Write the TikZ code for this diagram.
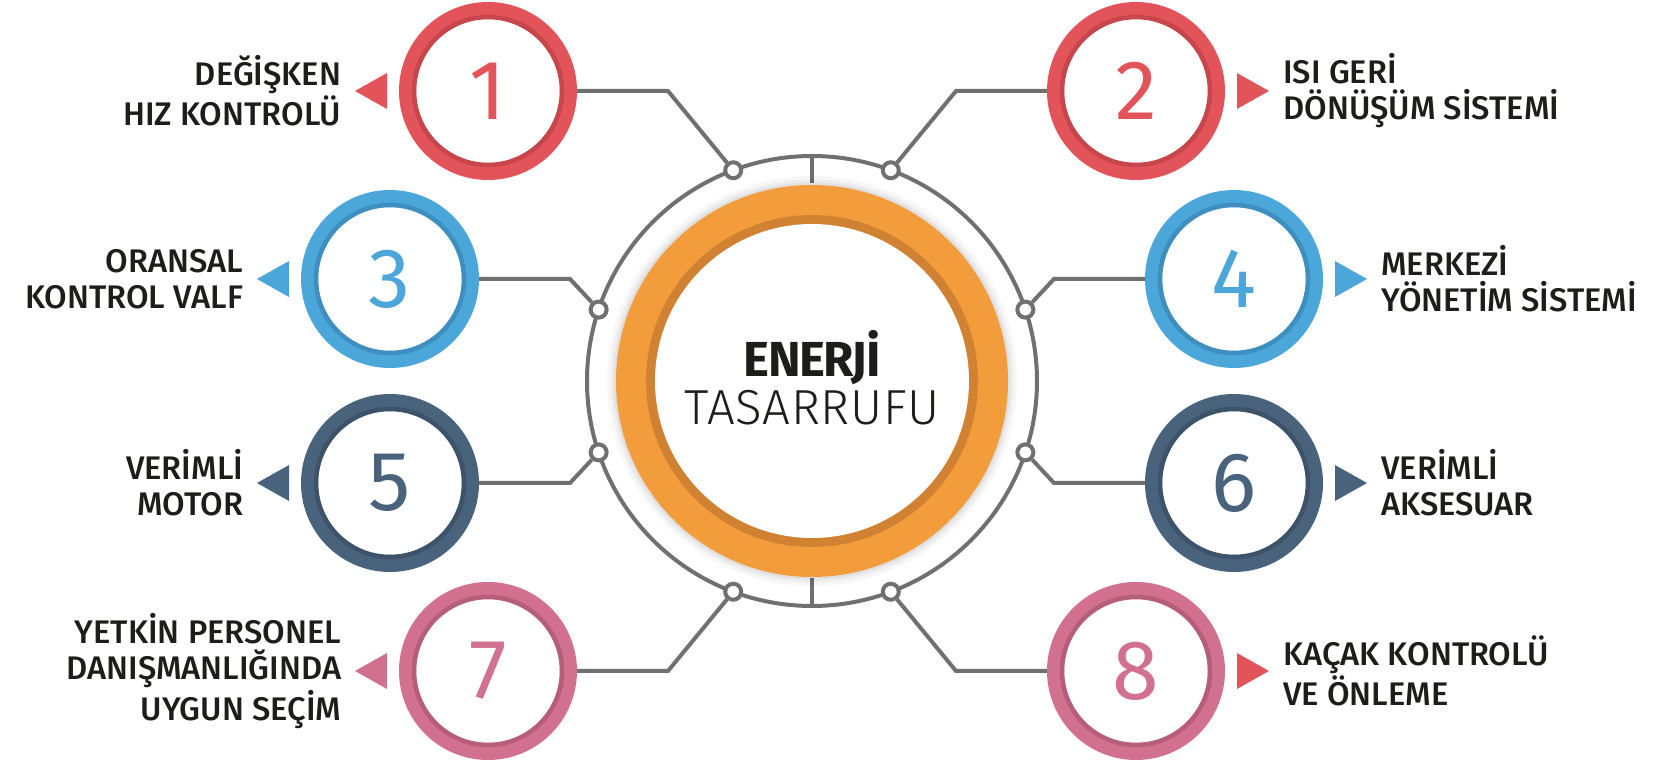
\documentclass[tikz,border=0pt]{standalone}
\usepackage{fontspec}
\setmainfont{Fira Sans}
\newfontfamily\labelfont{Fira Sans Medium}
\newfontfamily\thinfont[LetterSpace=1.5]{Fira Sans Light}
\newfontfamily\heavyfont[LetterSpace=-3]{Fira Sans Bold}
\usetikzlibrary{calc}

\definecolor{linegray}{HTML}{707070}
\definecolor{labelblack}{HTML}{1D1D1B}
\definecolor{ringred}{HTML}{E3545A}
\definecolor{ringreddark}{HTML}{C6464C}
\definecolor{ringblue}{HTML}{4BA6DA}
\definecolor{ringbluedark}{HTML}{3E8EC0}
\definecolor{ringnavy}{HTML}{4A637D}
\definecolor{ringnavydark}{HTML}{3D5369}
\definecolor{ringpink}{HTML}{D1708F}
\definecolor{ringpinkdark}{HTML}{B55D7A}
\definecolor{huborange}{HTML}{F39C3C}
\definecolor{huborangedark}{HTML}{D08232}

\tikzset{
  link/.style={draw=linegray, line width=0.08cm},
  dot/.style={circle, draw=linegray, fill=white, line width=0.08cm, minimum size=0.32cm, inner sep=0pt},
  numring/.style={circle, draw=#1, line width=0.34cm, minimum size=3.22cm, inner sep=0pt, text=#1, font=\fontsize{48}{48}\selectfont},
  band/.style={draw=#1, line width=0.09cm},
  lbl/.style={font=\labelfont\fontsize{18.6}{20.5}\selectfont, text=labelblack, inner sep=0pt},
}

\begin{document}
\begin{tikzpicture}
% Page size and white background
\useasboundingbox (0,0) rectangle (33.24,15.24);
\fill[white] (0,0) rectangle (33.24,15.24);

% Hub: gray outer ring with two ticks
\coordinate (c) at (16.24,7.62);
\draw[link] (c) circle (4.5);
\draw[link] ($(c)+(0,4.5)$) -- ($(c)+(0,3.95)$);
\draw[link] ($(c)+(0,-4.5)$) -- ($(c)+(0,-3.95)$);

% soft shadow and orange ring
\fill[black, opacity=0.03] (c) circle (4.10);
\fill[black, opacity=0.04] (c) circle (4.03);
\fill[black, opacity=0.05] (c) circle (3.97);
\fill[huborange] (c) circle (3.92);
\fill[huborangedark] (c) circle (3.32);
\fill[white] (c) circle (3.14);
\node[align=center, font=\fontsize{28}{27.3}\selectfont, text=labelblack] (title) at ($(c)+(0,0.07)$) {{\heavyfont ENERJİ}\\{\thinfont TASARRUFU}};

% Joints on the outer ring
\node[dot] (d1) at ($(c)+(110.5:4.5)$) {};
\node[dot] (d2) at ($(c)+(69.5:4.5)$) {};
\node[dot] (d3) at ($(c)+(161.5:4.5)$) {};
\node[dot] (d4) at ($(c)+(18.5:4.5)$) {};
\node[dot] (d5) at ($(c)+(198.5:4.5)$) {};
\node[dot] (d6) at ($(c)+(-18.5:4.5)$) {};
\node[dot] (d7) at ($(c)+(249.5:4.5)$) {};
\node[dot] (d8) at ($(c)+(-69.5:4.5)$) {};

% Numbered rings
\node[numring=ringred] (n1) at (9.76,13.42) {1};
\draw[band=ringreddark] (n1.center) circle (1.48);
\node[numring=ringred] (n2) at (22.72,13.42) {2};
\draw[band=ringreddark] (n2.center) circle (1.48);
\node[numring=ringblue] (n3) at (7.80,9.66) {3};
\draw[band=ringbluedark] (n3.center) circle (1.48);
\node[numring=ringblue] (n4) at (24.68,9.66) {4};
\draw[band=ringbluedark] (n4.center) circle (1.48);
\node[numring=ringnavy] (n5) at (7.80,5.58) {5};
\draw[band=ringnavydark] (n5.center) circle (1.48);
\node[numring=ringnavy] (n6) at (24.68,5.58) {6};
\draw[band=ringnavydark] (n6.center) circle (1.48);
\node[numring=ringpink] (n7) at (9.76,1.82) {7};
\draw[band=ringpinkdark] (n7.center) circle (1.48);
\node[numring=ringpink] (n8) at (22.72,1.82) {8};
\draw[band=ringpinkdark] (n8.center) circle (1.48);

% Bent links from the rings to the joints
\coordinate (k1) at (13.36,13.42);
\coordinate (k2) at (19.12,13.42);
\coordinate (k3) at (11.40,9.66);
\coordinate (k4) at (21.08,9.66);
\coordinate (k5) at (11.40,5.58);
\coordinate (k6) at (21.08,5.58);
\coordinate (k7) at (13.36,1.82);
\coordinate (k8) at (19.12,1.82);
\draw[link] (n1.east) -- (k1) -- (d1);
\draw[link] (n2.west) -- (k2) -- (d2);
\draw[link] (n3.east) -- (k3) -- (d3);
\draw[link] (n4.west) -- (k4) -- (d4);
\draw[link] (n5.east) -- (k5) -- (d5);
\draw[link] (n6.west) -- (k6) -- (d6);
\draw[link] (n7.east) -- (k7) -- (d7);
\draw[link] (n8.west) -- (k8) -- (d8);

% Pointers and labels, left side
\fill[ringred] ([shift={(-0.24,0.36)}]n1.west) -- ([shift={(-0.24,-0.36)}]n1.west) -- ([shift={(-0.88,0)}]n1.west) coordinate (t1) -- cycle;
\node[lbl, anchor=east, align=right] (l1) at ([xshift=-0.27cm]t1) {DEĞİŞKEN\\HIZ KONTROLÜ};
\fill[ringblue] ([shift={(-0.24,0.36)}]n3.west) -- ([shift={(-0.24,-0.36)}]n3.west) -- ([shift={(-0.88,0)}]n3.west) coordinate (t3) -- cycle;
\node[lbl, anchor=east, align=right] (l3) at ([xshift=-0.27cm]t3) {ORANSAL\\KONTROL VALF};
\fill[ringnavy] ([shift={(-0.24,0.36)}]n5.west) -- ([shift={(-0.24,-0.36)}]n5.west) -- ([shift={(-0.88,0)}]n5.west) coordinate (t5) -- cycle;
\node[lbl, anchor=east, align=right] (l5) at ([xshift=-0.27cm]t5) {VERİMLİ\\MOTOR};
\fill[ringpink] ([shift={(-0.24,0.36)}]n7.west) -- ([shift={(-0.24,-0.36)}]n7.west) -- ([shift={(-0.88,0)}]n7.west) coordinate (t7) -- cycle;
\node[lbl, anchor=east, align=right] (l7) at ([xshift=-0.27cm]t7) {YETKİN PERSONEL\\DANIŞMANLIĞINDA\\UYGUN SEÇİM};

% Pointers and labels, right side
\fill[ringred] ([shift={(0.24,0.36)}]n2.east) -- ([shift={(0.24,-0.36)}]n2.east) -- ([shift={(0.88,0)}]n2.east) coordinate (t2) -- cycle;
\node[lbl, anchor=west, align=left] (l2) at ([xshift=0.28cm]t2) {ISI GERİ\\DÖNÜŞÜM SİSTEMİ};
\fill[ringblue] ([shift={(0.24,0.36)}]n4.east) -- ([shift={(0.24,-0.36)}]n4.east) -- ([shift={(0.88,0)}]n4.east) coordinate (t4) -- cycle;
\node[lbl, anchor=west, align=left] (l4) at ([xshift=0.28cm]t4) {MERKEZİ\\YÖNETİM SİSTEMİ};
\fill[ringnavy] ([shift={(0.24,0.36)}]n6.east) -- ([shift={(0.24,-0.36)}]n6.east) -- ([shift={(0.88,0)}]n6.east) coordinate (t6) -- cycle;
\node[lbl, anchor=west, align=left] (l6) at ([xshift=0.28cm]t6) {VERİMLİ\\AKSESUAR};
\fill[ringred] ([shift={(0.24,0.36)}]n8.east) -- ([shift={(0.24,-0.36)}]n8.east) -- ([shift={(0.88,0)}]n8.east) coordinate (t8) -- cycle;
\node[lbl, anchor=west, align=left] (l8) at ([xshift=0.28cm]t8) {KAÇAK KONTROLÜ\\VE ÖNLEME};
\end{tikzpicture}
\end{document}
